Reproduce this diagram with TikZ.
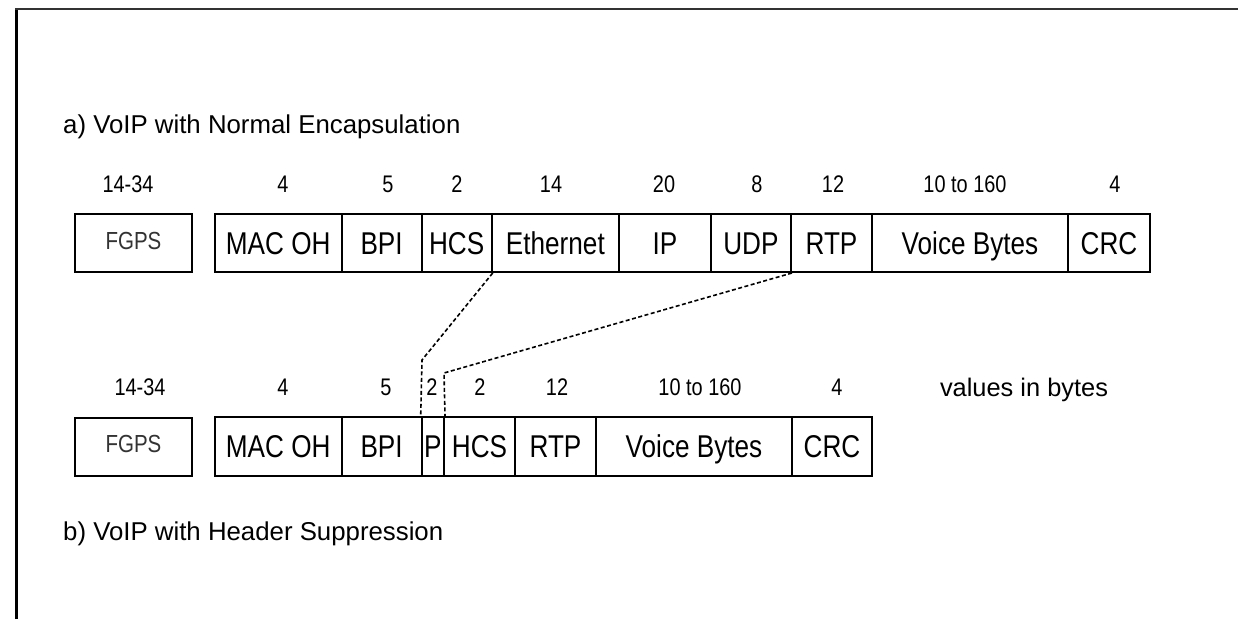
\documentclass[tikz,border=0pt]{standalone}
\usepackage{fontspec}
\setmainfont{Liberation Sans}
\newfontfamily\condfont{Liberation Sans}[FakeStretch=0.83]
\begin{document}
\begin{tikzpicture}[x=1pt,y=-1pt,
  fld/.style={draw, line width=2pt, minimum height=58pt, inner sep=0pt,
    font=\condfont\fontsize{31.5}{31.5}\selectfont, text height=22.6pt, text depth=0pt},
  fg/.style={fld, font=\condfont\fontsize{24.7}{25}\selectfont, text height=12.6pt, text=black!80},
  num/.style={anchor=base, inner sep=0pt, font=\condfont\fontsize{24}{24}\selectfont},
  ttl/.style={anchor=base west, inner sep=0pt, font=\fontsize{25.8}{26}\selectfont},
  cn/.style={line width=1.6pt, dash pattern=on 4pt off 2.5pt}]
\useasboundingbox (0,0) rectangle (1238,619);
% frame
\draw[line width=3pt] (16.7,619) -- (16.7,9);
\draw[line width=2.5pt, black!80] (15.2,9) -- (1238,9);

% titles
\node[ttl] (ta) at (63,133) {a) VoIP with Normal Encapsulation};
\node[ttl] (tb) at (63,540) {b) VoIP with Header Suppression};

% top row
\node[fg, minimum width=117pt] (tFGPS) at (133.5,243) {FGPS};
\node[fld, minimum width=126.5pt] (tMAC) at (278.25,243) {MAC OH};
\node[fld, minimum width=80.2pt] (tBPI) at (381.6,243) {BPI};
\node[fld, minimum width=70pt] (tHCS) at (456.7,243) {HCS};
\node[fld, minimum width=127.3pt] (tETH) at (555.35,243) {Ethernet};
\node[fld, minimum width=91.7pt] (tIP) at (664.85,243) {IP};
\node[fld, minimum width=80.3pt] (tUDP) at (750.85,243) {UDP};
\node[fld, minimum width=81pt] (tRTP) at (831.5,243) {RTP};
\node[fld, minimum width=196pt] (tVB) at (970,243) {Voice Bytes};
\node[fld, minimum width=82pt] (tCRC) at (1109,243) {CRC};

% top numbers
\node[num] (n1) at (128,192) {14-34};
\node[num] (n2) at (283,192) {4};
\node[num] (n3) at (388,192) {5};
\node[num] (n4) at (457,192) {2};
\node[num] (n5) at (551,192) {14};
\node[num] (n6) at (664,192) {20};
\node[num] (n7) at (757,192) {8};
\node[num] (n8) at (833,192) {12};
\node[num] (n9) at (965,192) {10 to 160};
\node[num] (n10) at (1115,192) {4};

% bottom row
\node[fg, minimum width=117pt] (bFGPS) at (133.5,446.5) {FGPS};
\node[fld, minimum width=126.5pt, minimum height=59pt] (bMAC) at (278.25,446.5) {MAC OH};
\node[fld, minimum width=80.2pt, minimum height=59pt] (bBPI) at (381.6,446.5) {BPI};
\node[fld, minimum width=22.3pt, minimum height=59pt] (bP) at (432.85,446.5) {P};
\node[fld, minimum width=71pt, minimum height=59pt] (bHCS) at (479.5,446.5) {HCS};
\node[fld, minimum width=81pt, minimum height=59pt] (bRTP) at (555.5,446.5) {RTP};
\node[fld, minimum width=196pt, minimum height=59pt] (bVB) at (694,446.5) {Voice Bytes};
\node[fld, minimum width=80pt, minimum height=59pt] (bCRC) at (832,446.5) {CRC};

% bottom numbers
\node[num] (m1) at (140,395) {14-34};
\node[num] (m2) at (283,395) {4};
\node[num] (m3) at (386,395) {5};
\node[num] (m4) at (432,395) {2};
\node[num] (m5) at (480,395) {2};
\node[num] (m6) at (557,395) {12};
\node[num] (m7) at (700,395) {10 to 160};
\node[num] (m8) at (837,395) {4};
\node[anchor=base, inner sep=0pt, font=\fontsize{25.4}{26}\selectfont] (vib) at (1024,396) {values in bytes};

% dashed connectors
\coordinate (k1) at (422,360);
\coordinate (k2) at (444,373);
\draw[cn] (tHCS.south east) -- (k1) -- (bP.north west);
\draw[cn] (tUDP.south east) -- (k2) -- (bP.north east);
\end{tikzpicture}
\end{document}
